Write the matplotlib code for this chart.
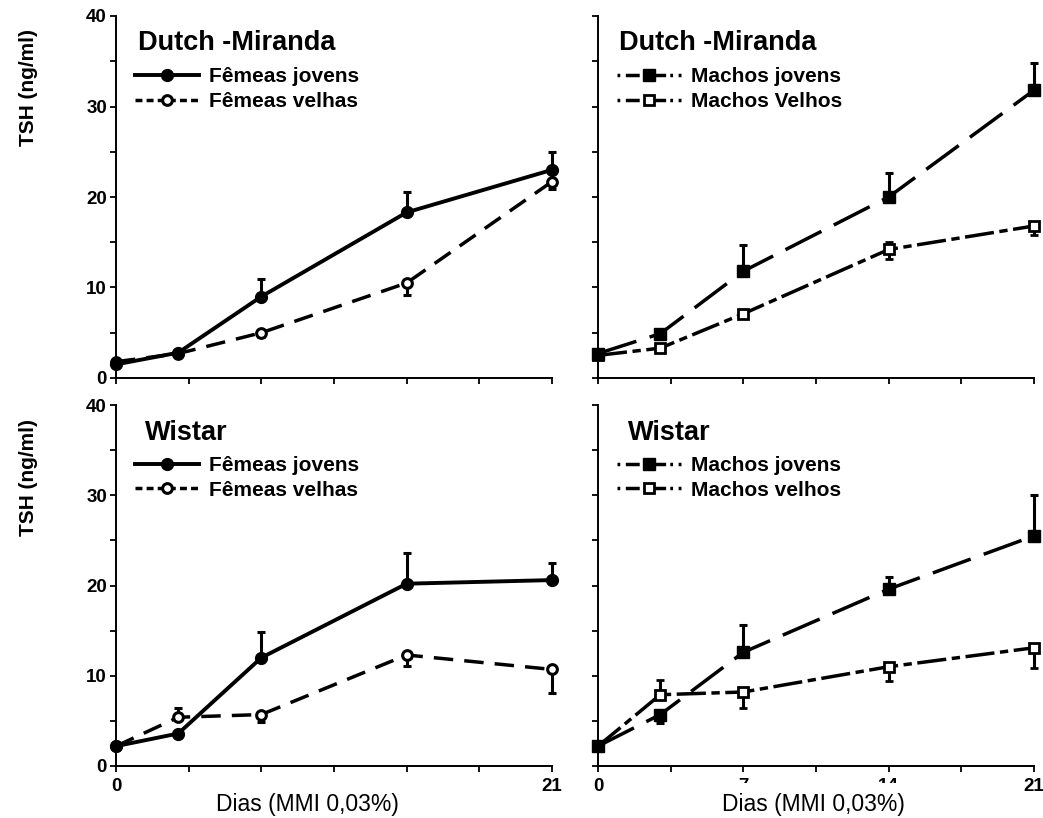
import matplotlib
matplotlib.use("Agg")
import matplotlib.pyplot as plt
from matplotlib.lines import Line2D
from matplotlib.ticker import MultipleLocator

plt.rcParams['font.family'] = ['Liberation Sans', 'DejaVu Sans']
plt.rcParams['lines.scale_dashes'] = False

# dias de tratamento
dias = [0, 3, 7, 14, 21]

# Dutch-Miranda
dm_fem_jov = [1.5, 2.8, 9.0, 18.3, 23.0]
dm_fem_jov_lo = [0, 0, 0, 0, 0]
dm_fem_jov_hi = [0, 0, 1.9, 2.2, 2.0]
dm_fem_vel = [1.8, 2.7, 5.0, 10.5, 21.7]
dm_fem_vel_lo = [0, 0, 0.5, 1.3, 0.8]
dm_fem_vel_hi = [0, 0, 0, 0, 0]
dm_mac_jov = [2.7, 4.9, 11.8, 20.0, 31.8]
dm_mac_jov_lo = [0, 0, 0, 0, 0]
dm_mac_jov_hi = [0, 0, 2.9, 2.6, 3.0]
dm_mac_vel = [2.5, 3.3, 7.1, 14.2, 16.8]
dm_mac_vel_lo = [0, 0, 0.5, 1.1, 1.0]
dm_mac_vel_hi = [0, 0, 0, 0.8, 0]

# Wistar
wi_fem_jov = [2.2, 3.6, 12.0, 20.2, 20.6]
wi_fem_jov_lo = [0, 0, 0, 0, 0]
wi_fem_jov_hi = [0, 0, 2.8, 3.4, 1.9]
wi_fem_vel = [2.2, 5.4, 5.7, 12.3, 10.7]
wi_fem_vel_lo = [0, 0, 0.8, 1.2, 2.6]
wi_fem_vel_hi = [0, 1.0, 0, 0, 0]
wi_mac_jov = [2.2, 5.7, 12.6, 19.6, 25.5]
wi_mac_jov_lo = [0, 0.9, 0, 0, 0]
wi_mac_jov_hi = [0, 0, 3.0, 1.3, 4.5]
wi_mac_vel = [2.2, 7.9, 8.2, 11.0, 13.1]
wi_mac_vel_lo = [0, 0, 1.8, 1.6, 2.2]
wi_mac_vel_hi = [0, 1.6, 0, 0, 0]

W, H = 1043, 818
fig = plt.figure(figsize=(W / 100, H / 100), dpi=100)


def px_axes(x0, y_top, x1, y_bot):
    return fig.add_axes([x0 / W, 1 - y_bot / H, (x1 - x0) / W, (y_bot - y_top) / H])


ax_tl = px_axes(116, 16, 552, 378)
ax_tr = px_axes(598, 16, 1034, 378)
ax_bl = px_axes(116, 405, 552, 766)
ax_br = px_axes(598, 405, 1034, 766)

ls_solid = '-'
ls_dash = (0, (14, 8))
ls_long = (0, (29, 10))
ls_dashdot = (0, (21, 4, 6, 4))

sty = {
    'fj': dict(color='black', ls=ls_solid, lw=2.8, marker='o', ms=8.5, mfc='black', mec='black'),
    'fv': dict(color='black', ls=ls_dash, lw=2.5, marker='o', ms=7, mfc='white', mec='black', mew=2.2),
    'mj': dict(color='black', ls=ls_long, lw=2.5, marker='s', ms=8.5, mfc='black', mec='black'),
    'mv': dict(color='black', ls=ls_dashdot, lw=2.5, marker='s', ms=7, mfc='white', mec='black', mew=2),
}


def serie(ax, y, lo, hi, key):
    ax.errorbar(dias, y, yerr=[lo, hi], ecolor='black', elinewidth=2.2, capsize=3, capthick=2.2,
                clip_on=False, zorder=3, **sty[key])


def estilo(ax, ylabels, xlabels):
    ax.set_xlim(0, 21)
    ax.set_ylim(0, 40)
    for s in ['top', 'right']:
        ax.spines[s].set_visible(False)
    for s in ['left', 'bottom']:
        ax.spines[s].set_linewidth(1.4)
    ax.xaxis.set_major_locator(MultipleLocator(7))
    ax.xaxis.set_minor_locator(MultipleLocator(3.5))
    ax.yaxis.set_major_locator(MultipleLocator(10))
    ax.yaxis.set_minor_locator(MultipleLocator(5))
    ax.tick_params(which='both', direction='out', length=4.5, width=1.3)
    ax.tick_params(axis='x', pad=4)
    ax.tick_params(axis='y', pad=2)
    if ylabels:
        ax.set_yticklabels([f'{int(v)}' for v in ax.get_yticks()], fontsize=13.5, fontweight='bold')
    else:
        ax.set_yticklabels([])
    ax.set_xticks([0, 7, 14, 21])
    ax.set_xticklabels(xlabels, fontsize=13.5, fontweight='bold')


def legenda(ax, labels, machos, titulo, tx, ty):
    ax.text(tx, ty, titulo, transform=ax.transAxes, fontsize=19.5, fontweight='bold',
            va='baseline', ha='left')
    if machos:
        h = [Line2D([], [], color='black', ls=(0, (2, 4, 10, 3)), lw=2.5, marker='s', ms=8.5,
                    mfc='black', mec='black'),
             Line2D([], [], color='black', ls=(0, (2, 4, 10, 3)), lw=2.5, marker='s', ms=7,
                    mfc='white', mec='black', mew=2)]
    else:
        h = [Line2D([], [], color='black', ls='-', lw=2.8, marker='o', ms=8.5, mfc='black',
                    mec='black'),
             Line2D([], [], color='black', ls=(0, (5, 3)), lw=2.5, marker='o', ms=7, mfc='white',
                    mec='black', mew=2.2)]
    ax.legend(h, labels, loc='upper left', bbox_to_anchor=(0.043, 0.859), frameon=False,
              borderaxespad=0, borderpad=0, handlelength=3.1, handletextpad=0.45,
              labelspacing=0.28, prop=dict(size=15, weight='bold'))


serie(ax_tl, dm_fem_vel, dm_fem_vel_lo, dm_fem_vel_hi, 'fv')
serie(ax_tl, dm_fem_jov, dm_fem_jov_lo, dm_fem_jov_hi, 'fj')
serie(ax_tr, dm_mac_vel, dm_mac_vel_lo, dm_mac_vel_hi, 'mv')
serie(ax_tr, dm_mac_jov, dm_mac_jov_lo, dm_mac_jov_hi, 'mj')
serie(ax_bl, wi_fem_vel, wi_fem_vel_lo, wi_fem_vel_hi, 'fv')
serie(ax_bl, wi_fem_jov, wi_fem_jov_lo, wi_fem_jov_hi, 'fj')
serie(ax_br, wi_mac_vel, wi_mac_vel_lo, wi_mac_vel_hi, 'mv')
serie(ax_br, wi_mac_jov, wi_mac_jov_lo, wi_mac_jov_hi, 'mj')

estilo(ax_tl, True, [])
estilo(ax_tr, False, [])
estilo(ax_bl, True, ['0', '', '', '21'])
estilo(ax_br, False, ['0', '7', '14', '21'])

legenda(ax_tl, ['Fêmeas jovens', 'Fêmeas velhas'], False, 'Dutch -Miranda', 0.05, 0.906)
legenda(ax_tr, ['Machos jovens', 'Machos Velhos'], True, 'Dutch -Miranda', 0.048, 0.906)
legenda(ax_bl, ['Fêmeas jovens', 'Fêmeas velhas'], False, 'Wistar', 0.066, 0.903)
legenda(ax_br, ['Machos jovens', 'Machos velhos'], True, 'Wistar', 0.069, 0.903)

for yc in (88, 478):
    fig.text(28 / W, 1 - yc / H, 'TSH (ng/ml)', rotation=90, fontsize=15, fontweight='bold',
             ha='center', va='center')

fig.text(307 / W, 1 - 804 / H, 'Dias (MMI 0,03%)', fontsize=16.5, ha='center', va='center',
         bbox=dict(facecolor='white', edgecolor='none', pad=3))
# no original o rótulo da direita cobre parte dos números 7 e 14
fig.text(813 / W, 1 - 805 / H, 'Dias (MMI 0,03%)', fontsize=16.5, ha='center', va='center',
         bbox=dict(facecolor='white', edgecolor='none', pad=7.5))

fig.savefig('out.png', dpi=100)
